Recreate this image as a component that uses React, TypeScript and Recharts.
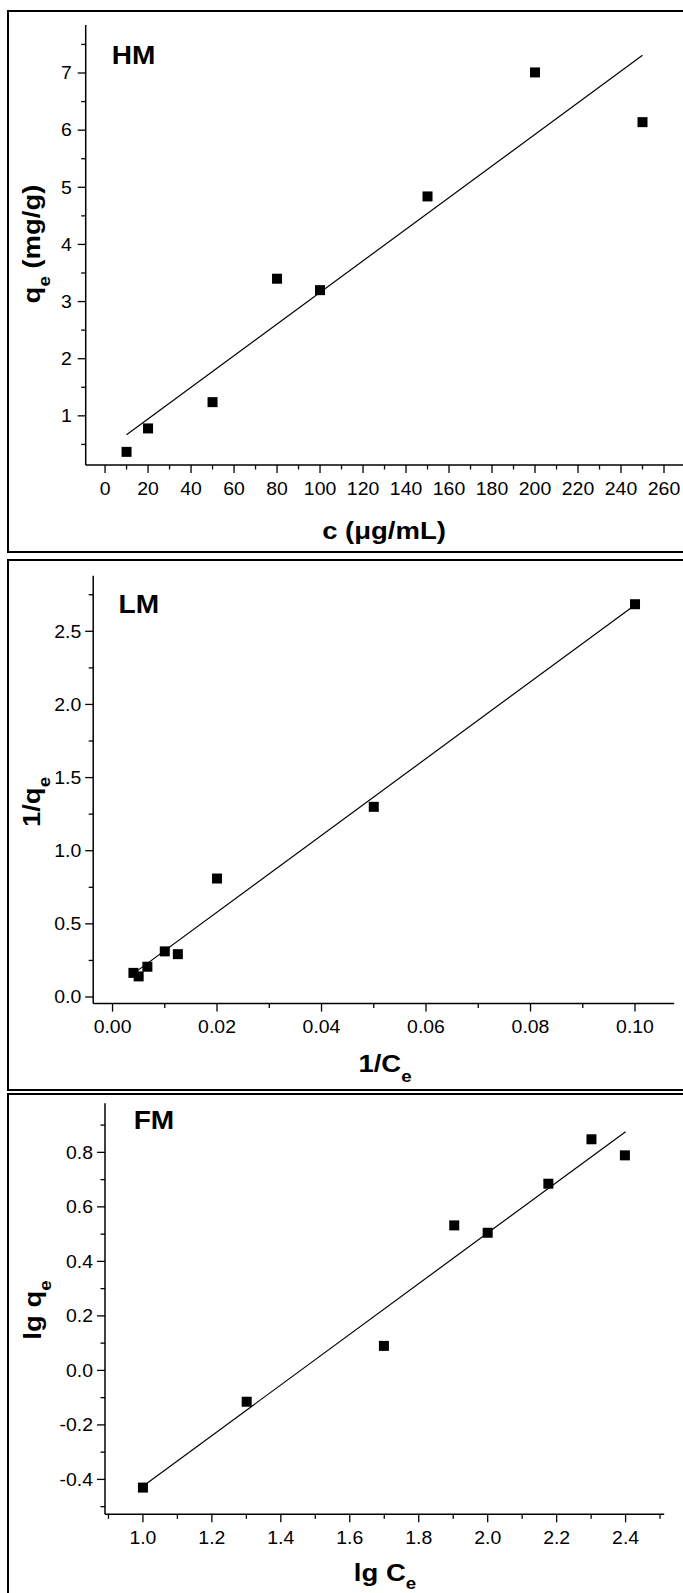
import React from 'react';
import { Scatter, ScatterChart, XAxis, YAxis } from 'recharts';

// HM panel: qe vs c
const hmC = [10, 20, 50, 80, 100, 150, 200, 250];
const hmQe = [0.37, 0.78, 1.24, 3.4, 3.2, 4.84, 7.01, 6.14];
const hmFitC = [10, 250];
const hmFitQe = [0.67, 7.31];
const hmXMajor = [0, 20, 40, 60, 80, 100, 120, 140, 160, 180, 200, 220, 240, 260];
const hmXMinor = [10, 30, 50, 70, 90, 110, 130, 150, 170, 190, 210, 230, 250];
const hmYMajor = [1, 2, 3, 4, 5, 6, 7];
const hmYMinor = [0.5, 1.5, 2.5, 3.5, 4.5, 5.5, 6.5, 7.5];

// LM panel: 1/qe vs 1/Ce
const lmInvC = [0.004, 0.005, 0.00667, 0.01, 0.0125, 0.02, 0.05, 0.1];
const lmInvQ = [0.165, 0.141, 0.207, 0.312, 0.293, 0.81, 1.3, 2.685];
const lmFitInvC = [0.004, 0.1];
const lmFitInvQ = [0.16, 2.68];
const lmXMajor = [0, 0.02, 0.04, 0.06, 0.08, 0.1];
const lmXMinor = [0.01, 0.03, 0.05, 0.07, 0.09];
const lmYMajor = [0, 0.5, 1, 1.5, 2, 2.5];
const lmYMinor = [0.25, 0.75, 1.25, 1.75, 2.25, 2.75];

// FM panel: lg qe vs lg Ce
const fmLgC = [1.0, 1.301, 1.699, 1.903, 2.0, 2.176, 2.301, 2.398];
const fmLgQ = [-0.43, -0.115, 0.09, 0.532, 0.505, 0.685, 0.848, 0.789];
const fmFitLgC = [1.0, 2.4];
const fmFitLgQ = [-0.425, 0.876];
const fmXMajor = [1.0, 1.2, 1.4, 1.6, 1.8, 2.0, 2.2, 2.4];
const fmXMinor = [0.9, 1.1, 1.3, 1.5, 1.7, 1.9, 2.1, 2.3, 2.5];
const fmYMajor = [-0.4, -0.2, 0, 0.2, 0.4, 0.6, 0.8];
const fmYMinor = [-0.5, -0.3, -0.1, 0.1, 0.3, 0.5, 0.7, 0.9];

const FONT = "'Liberation Sans', Arial, sans-serif";

const toPoints = (xs: number[], ys: number[]) => xs.map((x, i) => ({ x, y: ys[i] }));

const Square = (props: any) => (
  <rect x={props.cx - 5} y={props.cy - 5} width={10} height={10} fill="#000" />
);

const makeXTick = (major: number[], fmt: (v: number) => string) => (props: any) => {
  const { x, y, payload } = props;
  const isMajor = major.includes(payload.value);
  return (
    <g>
      <line x1={x} y1={y} x2={x} y2={y + (isMajor ? 8 : 4.5)} stroke="#000" strokeWidth={1.3} />
      {isMajor && (
        <text
          transform={`translate(${x} ${y + 29.5}) scale(1.08 1)`}
          textAnchor="middle"
          fontFamily={FONT}
          fontSize={18}
          fill="#000"
        >
          {fmt(payload.value)}
        </text>
      )}
    </g>
  );
};

const makeYTick = (major: number[], fmt: (v: number) => string, gap: number) => (props: any) => {
  const { x, y, payload } = props;
  const isMajor = major.includes(payload.value);
  return (
    <g>
      <line x1={x - (isMajor ? 8 : 4.5)} y1={y} x2={x} y2={y} stroke="#000" strokeWidth={1.3} />
      {isMajor && (
        <text
          transform={`translate(${x - gap} ${y + 6.3}) scale(1.08 1)`}
          textAnchor="end"
          fontFamily={FONT}
          fontSize={18}
          fill="#000"
        >
          {fmt(payload.value)}
        </text>
      )}
    </g>
  );
};

type PanelProps = {
  top: number;
  width: number;
  height: number;
  margin: { top: number; right: number; bottom: number; left: number };
  yAxisWidth: number;
  xDomain: [number, number];
  yDomain: [number, number];
  xMajor: number[];
  xMinor: number[];
  yMajor: number[];
  yMinor: number[];
  xFmt: (v: number) => string;
  yFmt: (v: number) => string;
  yGap: number;
  points: { x: number; y: number }[];
  fit: { x: number; y: number }[];
};

function Panel(p: PanelProps) {
  return (
    <div style={{ position: 'absolute', left: 0, top: p.top }}>
      <ScatterChart width={p.width} height={p.height} margin={p.margin}>
        <XAxis
          type="number"
          dataKey="x"
          domain={p.xDomain}
          allowDataOverflow
          ticks={[...p.xMajor, ...p.xMinor]}
          interval={0}
          height={80}
          tickSize={0}
          tickMargin={0}
          tickLine={false}
          axisLine={{ stroke: '#000', strokeWidth: 1.5 }}
          tick={makeXTick(p.xMajor, p.xFmt)}
        />
        <YAxis
          type="number"
          dataKey="y"
          domain={p.yDomain}
          allowDataOverflow
          ticks={[...p.yMajor, ...p.yMinor]}
          interval={0}
          width={p.yAxisWidth}
          tickSize={0}
          tickMargin={0}
          tickLine={false}
          axisLine={{ stroke: '#000', strokeWidth: 1.5 }}
          tick={makeYTick(p.yMajor, p.yFmt, p.yGap)}
        />
        <Scatter
          data={p.fit}
          line={{ stroke: '#000', strokeWidth: 1.2 }}
          shape={() => <g />}
          isAnimationActive={false}
        />
        <Scatter data={p.points} shape={Square} isAnimationActive={false} />
      </ScatterChart>
    </div>
  );
}

const frame = (left: number, top: number, height: number): React.CSSProperties => ({
  position: 'absolute',
  left,
  top,
  width: 720,
  height,
  border: '2.7px solid #000',
  boxSizing: 'border-box',
});

export default function App() {
  return (
    <div
      style={{
        position: 'absolute',
        left: 0,
        top: 0,
        width: 683,
        height: 1593,
        overflow: 'hidden',
        background: '#fff',
      }}
    >
      <div style={frame(7.3, 10, 542.7)} />
      <div style={frame(7.3, 559.3, 531.4)} />
      <div style={frame(7.3, 1093.3, 560)} />

      <Panel
        top={0}
        width={700}
        height={545}
        margin={{ top: 25, right: 14.5, bottom: 0, left: 0 }}
        yAxisWidth={85.7}
        xDomain={[-9, 270]}
        yDomain={[0.14, 7.84]}
        xMajor={hmXMajor}
        xMinor={hmXMinor}
        yMajor={hmYMajor}
        yMinor={hmYMinor}
        xFmt={(v) => String(v)}
        yFmt={(v) => String(v)}
        yGap={14}
        points={toPoints(hmC, hmQe)}
        fit={toPoints(hmFitC, hmFitQe)}
      />
      <Panel
        top={555}
        width={683}
        height={530}
        margin={{ top: 20.7, right: 8.8, bottom: 1.4, left: 0 }}
        yAxisWidth={93.2}
        xDomain={[-0.0037, 0.1075]}
        yDomain={[-0.045, 2.88]}
        xMajor={lmXMajor}
        xMinor={lmXMinor}
        yMajor={lmYMajor}
        yMinor={lmYMinor}
        xFmt={(v) => v.toFixed(2)}
        yFmt={(v) => v.toFixed(1)}
        yGap={12}
        points={toPoints(lmInvC, lmInvQ)}
        fit={toPoints(lmFitInvC, lmFitInvQ)}
      />
      <Panel
        top={1090}
        width={683}
        height={505}
        margin={{ top: 13.3, right: 18.8, bottom: 0.7, left: 0 }}
        yAxisWidth={105}
        xDomain={[0.89, 2.512]}
        yDomain={[-0.528, 0.98]}
        xMajor={fmXMajor}
        xMinor={fmXMinor}
        yMajor={fmYMajor}
        yMinor={fmYMinor}
        xFmt={(v) => v.toFixed(1)}
        yFmt={(v) => v.toFixed(1)}
        yGap={12}
        points={toPoints(fmLgC, fmLgQ)}
        fit={toPoints(fmFitLgC, fmFitLgQ)}
      />

      <svg
        width={683}
        height={1593}
        style={{ position: 'absolute', left: 0, top: 0, pointerEvents: 'none' }}
        fontFamily={FONT}
        fontWeight={700}
        fill="#000"
      >
        <text transform="translate(111.7 64) scale(1.1 1)" fontSize={25.5}>HM</text>
        <text transform="translate(118.5 613) scale(1.1 1)" fontSize={25.5}>LM</text>
        <text transform="translate(133.7 1128.5) scale(1.1 1)" fontSize={25.5}>FM</text>

        <text transform="translate(384 538.6) scale(1.17 1)" fontSize={23.5} textAnchor="middle">
          c (μg/mL)
        </text>
        <text transform="translate(40 244) rotate(-90) scale(1.17 1)" fontSize={23.5} textAnchor="middle">
          q<tspan dy={10} fontSize={16}>e</tspan>
          <tspan dy={-10}>{' (mg/g)'}</tspan>
        </text>

        <text transform="translate(385 1071.7) scale(1.17 1)" fontSize={23.5} textAnchor="middle">
          1/C<tspan dy={10} fontSize={16}>e</tspan>
        </text>
        <text transform="translate(40 802) rotate(-90) scale(1.17 1)" fontSize={23.5} textAnchor="middle">
          1/q<tspan dy={10} fontSize={16}>e</tspan>
        </text>

        <text transform="translate(385 1580.5) scale(1.17 1)" fontSize={23.5} textAnchor="middle">
          lg C<tspan dy={8.5} fontSize={16}>e</tspan>
        </text>
        <text transform="translate(41 1310) rotate(-90) scale(1.17 1)" fontSize={23.5} textAnchor="middle">
          lg q<tspan dy={10} fontSize={16}>e</tspan>
        </text>
      </svg>
    </div>
  );
}
